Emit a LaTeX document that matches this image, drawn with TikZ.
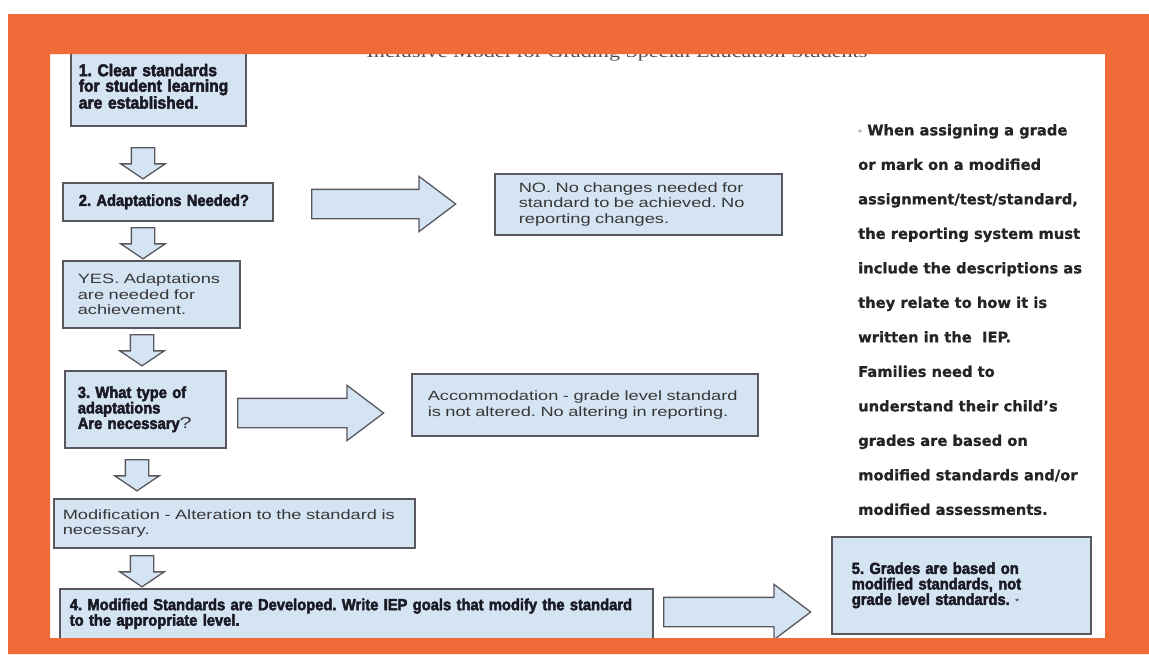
\documentclass[tikz,border=0pt]{standalone}
\usepackage{fontspec}
\setmainfont{Liberation Sans}
\newfontfamily\plainfont[FakeStretch=1.35]{Liberation Sans}
\newfontfamily\heavyfont[FakeStretch=0.92, BoldFeatures={FakeBold=2.8}]{Liberation Sans}
\newfontfamily\notefont[BoldFeatures={FakeBold=0.8}]{DejaVu Sans}
\newfontfamily\titlefont[FakeStretch=1.3]{Liberation Serif}
\usetikzlibrary{shapes.arrows}
\definecolor{frameorange}{RGB}{241,107,56}
\definecolor{boxblue}{RGB}{213,228,243}
\definecolor{boxline}{RGB}{88,88,94}
\definecolor{heavyink}{RGB}{26,26,36}
\definecolor{plainink}{RGB}{55,55,55}
\definecolor{noteink}{RGB}{36,36,36}
\frenchspacing
\begin{document}
\begin{tikzpicture}[x=1pt, y=-1pt,
  box/.style={draw=boxline, line width=1.6pt, fill=boxblue, align=left, inner ysep=0pt, anchor=north west},
  heavy/.style={font=\heavyfont\bfseries\fontsize{16}{15.5}\selectfont, text=heavyink},
  plain/.style={font=\plainfont\fontsize{13.5}{15.5}\selectfont, text=plainink},
  darrow/.style={shape=single arrow, draw=boxline, line width=1.3pt, fill=boxblue, inner sep=11pt, shape border rotate=270,
    minimum height=29pt, single arrow head extend=10.5pt, single arrow tip angle=112, anchor=tail},
  rarrow/.style={shape=single arrow, draw=boxline, line width=1.3pt, fill=boxblue, inner sep=14pt,
    single arrow head extend=13pt, single arrow tip angle=74, anchor=tail}]
\useasboundingbox (0,0) rectangle (1149,654);
\fill[white] (0,0) rectangle (1149,654);
% Title (mostly under the frame)
\node[font=\titlefont\fontsize{17}{17}\selectfont, text=black!70, anchor=base] (title) at (617,57.5) {Inclusive Model for Grading Special Education Students};
% Left column
\node[box, heavy, font=\heavyfont\bfseries\fontsize{17}{15.5}\selectfont, inner xsep=8pt, text width=159pt, minimum height=79pt] (q1) at (70,46) {1. Clear standards\\for student learning\\are established.};
\node[darrow] (d1) at (143,147) {};
\node[box, heavy, inner xsep=16pt, text width=178pt, minimum height=38pt] (q2) at (62,182) {2. Adaptations Needed?};
\node[darrow] (d2) at (143,227) {};
\node[box, plain, inner xsep=15pt, text width=147pt, minimum height=67pt] (yes) at (62,260) {YES. Adaptations\\are needed for\\achievement.};
\node[darrow] (d3) at (142,334) {};
\node[box, heavy, inner xsep=13pt, text width=135pt, minimum height=77pt] (q3) at (64,370) {3. What type of\\adaptations\\Are necessary{\plainfont\mdseries\color{plainink}?}};
\node[darrow] (d4) at (137,459) {};
\node[box, plain, inner xsep=9pt, text width=343pt, minimum height=49pt] (mod) at (53,498) {Modification - Alteration to the standard is\\necessary.};
\node[darrow] (d5) at (142,555) {};
\node[box, heavy, inner xsep=10pt, text width=573pt, minimum height=50pt] (q4) at (59,588) {4. Modified Standards are Developed. Write IEP goals that modify the standard\\to the appropriate level.};
% Right branches
\node[rarrow, minimum height=144pt] (r1) at (311,204) {};
\node[box, plain, inner xsep=24pt, text width=239pt, minimum height=61pt] (no) at (494,173) {NO. No changes needed for\\standard to be achieved. No\\reporting changes.};
\node[rarrow, minimum height=146pt] (r2) at (237,413) {};
\node[box, plain, inner xsep=16pt, text width=314pt, minimum height=62pt] (acc) at (411,373) {Accommodation - grade level standard\\is not altered. No altering in reporting.};
\node[rarrow, minimum height=147pt] (r3) at (663,612) {};
\node[box, heavy, inner xsep=20pt, text width=219pt, minimum height=97pt] (q5) at (831,536) {5. Grades are based on\\modified standards, not\\grade level standards. {\plainfont\mdseries\fontsize{8}{8}\selectfont *}};
% Note
\node[font=\notefont\bfseries\fontsize{14.7}{34.5}\selectfont, text=noteink, align=left, inner sep=0pt, anchor=north west] (note) at (858,124)
  {{\mdseries\fontsize{8}{8}\selectfont\color{gray}*} When assigning a grade\\or mark on a modified\\assignment/test/standard,\\the reporting system must\\include the descriptions as\\they relate to how it is\\written in the\ \ IEP.\\Families need to\\understand their child’s\\grades are based on\\modified standards and/or\\modified assessments.};
% Frame
\fill[frameorange, even odd rule] (8,14) rectangle (1149,654) (50,54) rectangle (1105,638);
\end{tikzpicture}
\end{document}
